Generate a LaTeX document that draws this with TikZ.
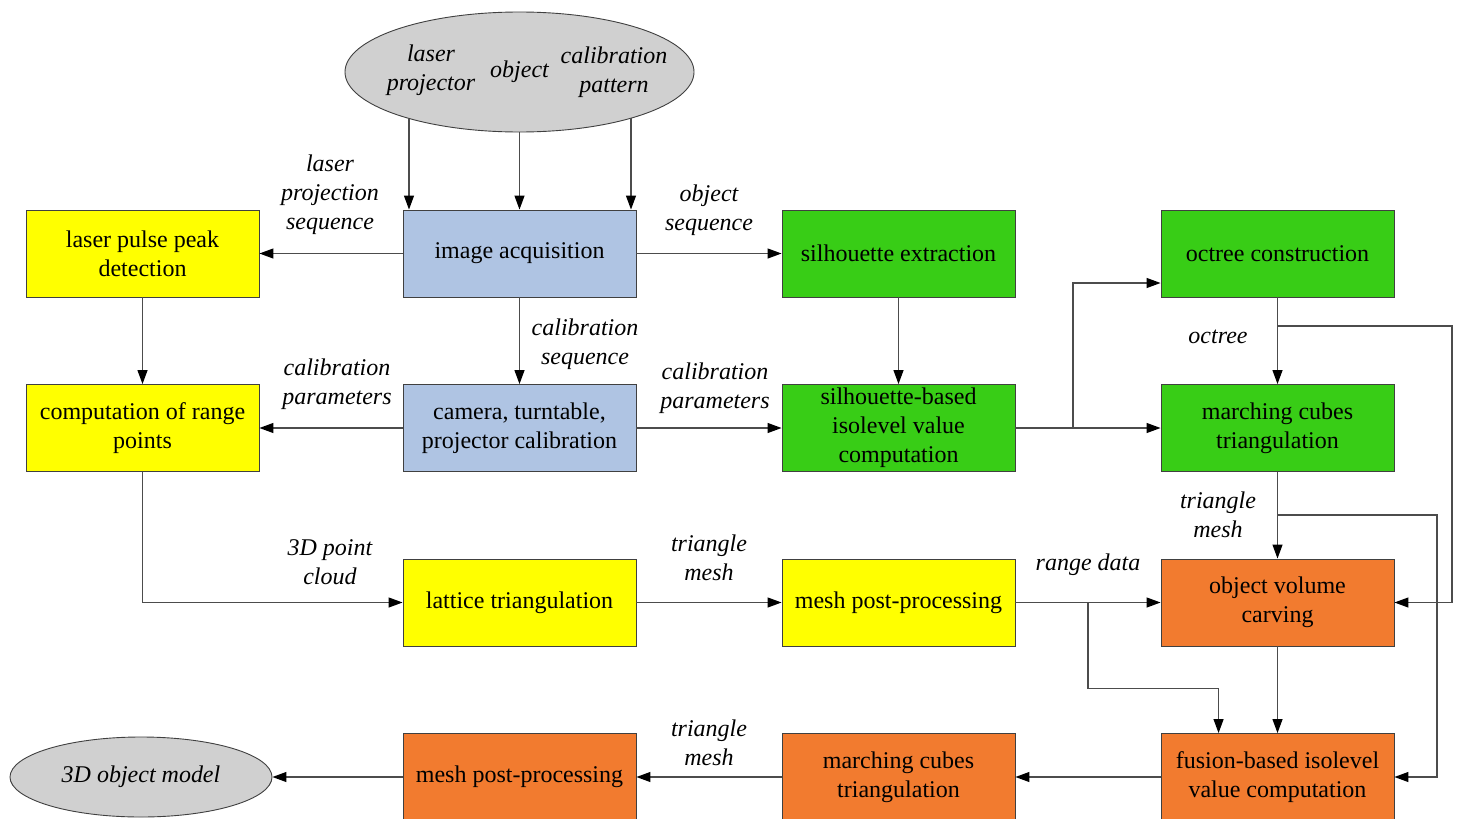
\documentclass[tikz,border=0pt]{standalone}
\usepackage{fontspec}
\setmainfont{Liberation Serif}
\usetikzlibrary{arrows.meta,shapes.geometric,calc}

\definecolor{fyellow}{RGB}{255,255,0}
\definecolor{fblue}{RGB}{175,196,227}
\definecolor{fgreen}{RGB}{56,205,22}
\definecolor{forange}{RGB}{242,123,47}
\definecolor{fgray}{RGB}{208,208,208}

\begin{document}
\begin{tikzpicture}[x=1pt,y=-1pt,
  txt/.style={font=\fontsize{24}{29}\selectfont},
  box/.style={txt, draw=black!75, line width=0.9pt, minimum width=233pt,
    minimum height=87pt, inner sep=0pt, align=center},
  ybox/.style={box, fill=fyellow},
  bbox/.style={box, fill=fblue},
  gbox/.style={box, fill=fgreen},
  obox/.style={box, fill=forange},
  ell/.style={ellipse, draw=black!75, line width=0.9pt, fill=fgray, inner sep=0pt},
  lbl/.style={font=\fontsize{24}{29}\selectfont\itshape, align=center, inner sep=0pt},
  conn/.style={draw=black!70, line width=1.2pt,
    -{Triangle[length=14pt,width=10pt,color=black]}}
]
\clip (0,0) rectangle (1462,819);
\fill[white] (0,0) rectangle (1462,819);

% sources
\node[ell, minimum width=349pt, minimum height=120pt] (src) at (519.5,72) {};
\node[lbl] (t1) at (431,70) {laser\\projector};
\node[lbl] (t2) at (519.5,72) {object};
\node[lbl] (t3) at (614,72) {calibration\\pattern};

% row 1
\node[ybox] (la) at (142.5,253.5) {laser pulse peak\\detection};
\node[bbox] (ia) at (519.5,253.5) {image acquisition};
\node[gbox] (se) at (898.5,253.5) {silhouette extraction};
\node[gbox] (oc) at (1277.5,253.5) {octree construction};

% row 2
\node[ybox] (cr) at (142.5,428) {computation of range\\points};
\node[bbox] (cc) at (519.5,428) {camera, turntable,\\projector calibration};
\node[gbox] (sb) at (898.5,428) {silhouette-based\\isolevel value\\computation};
\node[gbox] (mc) at (1277.5,428) {marching cubes\\triangulation};

% row 3
\node[ybox] (lt) at (519.5,602.5) {lattice triangulation};
\node[ybox] (mp) at (898.5,602.5) {mesh post-processing};
\node[obox] (ov) at (1277.5,602.5) {object volume\\carving};

% row 4
\node[obox] (fu) at (1277.5,777) {fusion-based isolevel\\value computation};
\node[obox] (mc2) at (898.5,777) {marching cubes\\triangulation};
\node[obox] (mp2) at (519.5,777) {mesh post-processing};
\node[ell, minimum width=262pt, minimum height=80pt, lbl] (model) at (141,777) {3D object model};

% connector labels
\node[lbl] (l1) at (330,195) {laser\\projection\\sequence};
\node[lbl] (l2) at (709,210) {object\\sequence};
\node[lbl] (l3) at (585,344) {calibration\\sequence};
\node[lbl] (l4) at (337,384) {calibration\\parameters};
\node[lbl] (l5) at (715,388) {calibration\\parameters};
\node[lbl] (l6) at (1218,337) {octree};
\node[lbl] (l7) at (1218,515) {triangle\\mesh};
\node[lbl] (l8) at (330,562) {3D point\\cloud};
\node[lbl] (l9) at (709,558) {triangle\\mesh};
\node[lbl] (l10) at (1088,565) {range data};
\node[lbl] (l11) at (709,743) {triangle\\mesh};

% junction points
\coordinate (s1) at (409,118.5);
\coordinate (s3) at (631,118);
\coordinate (j1) at (1073,428);
\coordinate (j2) at (1277.5,326);
\coordinate (j3) at (1277.5,515);
\coordinate (j4) at (1088,602.5);
\coordinate (fk) at ($(fu.north west)+(58,0)$);

% connectors
\draw[conn] (s1) -- (s1 |- ia.north);
\draw[conn] (src.south) -- (ia.north);
\draw[conn] (s3) -- (s3 |- ia.north);

\draw[conn] (ia.west) -- (la.east);
\draw[conn] (ia.east) -- (se.west);
\draw[conn] (ia.south) -- (cc.north);
\draw[conn] (la.south) -- (cr.north);
\draw[conn] (cc.west) -- (cr.east);
\draw[conn] (cc.east) -- (sb.west);
\draw[conn] (se.south) -- (sb.north);
\draw[conn] (sb.east) -- (mc.west);
\draw[conn] (j1) |- ($(oc.west)+(0,29.5)$);
\draw[conn] (oc.south) -- (mc.north);
\draw[conn] (j2) -- (1452,326) |- (ov.east);
\draw[conn] (mc.south) -- (ov.north);
\draw[conn] (j3) -- (1437,515) |- (fu.east);
\draw[conn] (cr.south) |- (lt.west);
\draw[conn] (lt.east) -- (mp.west);
\draw[conn] (mp.east) -- (ov.west);
\draw[conn] (j4) |- ($(fk)+(0,-44.5)$) -- (fk);
\draw[conn] (ov.south) -- (fu.north);
\draw[conn] (fu.west) -- (mc2.east);
\draw[conn] (mc2.west) -- (mp2.east);
\draw[conn] (mp2.west) -- (model.east);
\end{tikzpicture}
\end{document}
